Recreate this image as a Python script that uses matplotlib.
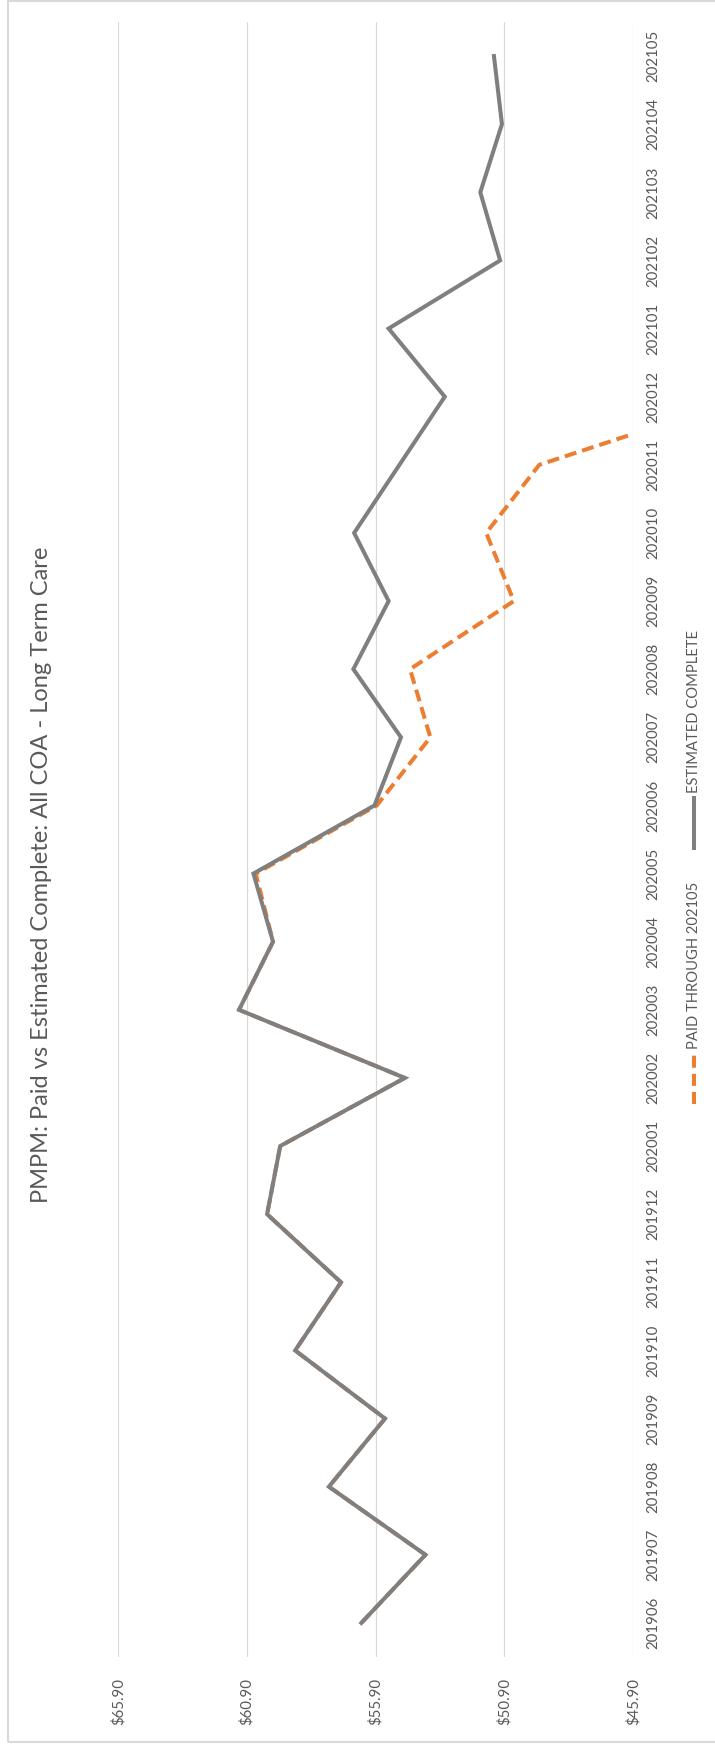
import numpy as np
import matplotlib
matplotlib.use("Agg")
import matplotlib.pyplot as plt
from matplotlib.lines import Line2D
from matplotlib.patches import Rectangle

plt.rcParams['font.family'] = ['Lato', 'DejaVu Sans']

# months on the category axis
months = ['201906', '201907', '201908', '201909', '201910', '201911', '201912',
          '202001', '202002', '202003', '202004', '202005', '202006', '202007',
          '202008', '202009', '202010', '202011', '202012', '202101', '202102',
          '202103', '202104', '202105']

# PMPM estimated complete
estimated = [56.45, 53.96, 57.71, 55.53, 59.02, 57.24, 60.11, 59.60, 54.76, 61.20,
             59.88, 60.64, 55.94, 54.91, 56.76, 55.39, 56.73, 54.97, 53.21, 55.39,
             51.06, 51.83, 50.99, 51.30]

# PMPM paid through 202105 (same as estimated for the older months)
paid = [56.45, 53.96, 57.71, 55.53, 59.02, 57.24, 60.11, 59.60, 54.76, 61.20,
        59.88, 60.55, 55.85, 53.77, 54.56, 50.53, 51.60, 49.54, 41.50, np.nan,
        np.nan, np.nan, np.nan, np.nan]

value_ticks = [65.90, 60.90, 55.90, 50.90, 45.90]
value_labels = ['$65.90', '$60.90', '$55.90', '$50.90', '$45.90']

title = 'PMPM: Paid vs Estimated Complete: All COA - Long Term Care'
paid_name = 'PAID THROUGH 202105'
est_name = 'ESTIMATED COMPLETE'

GRAY = '#7f7f7f'
ORANGE = '#ED7D31'
TEXT = '#595959'
GRID = '#d9d9d9'

W, H = 715, 1744
fig = plt.figure(figsize=(W / 100, H / 100), dpi=100)

# chart is laid out turned on its side: values run across, months run up
left, right, top, bottom = 118, 633, 22, 1657
ax = fig.add_axes([left / W, 1 - bottom / H, (right - left) / W, (bottom - top) / H])

pos = np.arange(len(months))
ax.plot(paid, pos, color=ORANGE, lw=2.9, dashes=(3, 1.5), zorder=2)
ax.plot(estimated, pos, color=GRAY, lw=2.9, solid_joinstyle='miter', zorder=3)

ax.set_xlim(65.90, 45.90)
ax.set_ylim(-0.5, len(months) - 0.5)
ax.set_xticks(value_ticks)
ax.set_xticklabels(value_labels, rotation=90, ha='center', va='top')
ax.yaxis.tick_right()
ax.set_yticks(pos)
ax.set_yticklabels(months, rotation=90, va='center', ha='left')
ax.tick_params(axis='both', length=0, labelsize=10.8, labelcolor=TEXT)
ax.tick_params(axis='x', pad=15)
ax.tick_params(axis='y', pad=9.5)
ax.grid(axis='x', color=GRID, lw=0.9)
ax.set_axisbelow(True)
for s in ax.spines.values():
    s.set_visible(False)

# title, rotated
fig.text(42 / W, 1 - 875 / H, title, rotation=90, ha='center', va='center',
         fontsize=17, color=TEXT)

# legend drawn by hand so it can be rotated too
lx = 694 / W
fig.add_artist(Line2D([lx, lx], [1 - 1104 / H, 1 - 1055 / H], transform=fig.transFigure,
                      color=ORANGE, lw=2.9, dashes=(3, 1.5)))
fig.text(lx, 1 - 1049 / H, paid_name, rotation=90, rotation_mode='anchor',
         ha='left', va='center', fontsize=10.6, color=TEXT)
fig.add_artist(Line2D([lx, lx], [1 - 848 / H, 1 - 798 / H], transform=fig.transFigure,
                      color=GRAY, lw=2.9))
fig.text(lx, 1 - 793 / H, est_name, rotation=90, rotation_mode='anchor',
         ha='left', va='center', fontsize=10.6, color=TEXT)

# chart area border
fig.add_artist(Rectangle((8 / W, 2 / H), 1.0, 1 - 3.5 / H, transform=fig.transFigure,
                         fill=False, edgecolor=GRID, lw=1.5))

fig.savefig('out.png', dpi=100)
